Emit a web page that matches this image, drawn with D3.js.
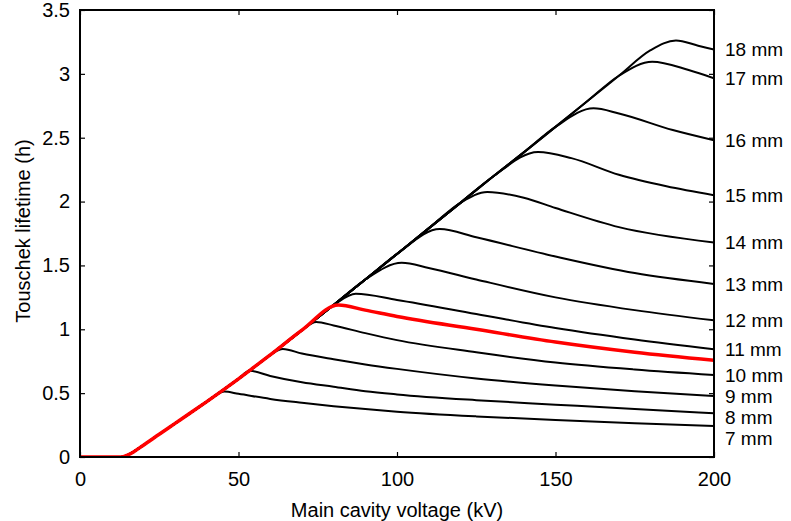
<!DOCTYPE html>
<html><head><meta charset="utf-8">
<script src="https://cdn.jsdelivr.net/npm/d3@7"></script>
<style>
html,body{margin:0;padding:0;background:#fff;}
svg text{font-family:"Liberation Sans",Arial,Helvetica,sans-serif;fill:#000;}
</style></head>
<body>
<svg id="chart" width="791" height="521"></svg>
<script>
// ---- data ----
const xTicks = [0, 50, 100, 150, 200];
const yTicks = [0, 0.5, 1, 1.5, 2, 2.5, 3, 3.5];
const xTickLabels = ["0", "50", "100", "150", "200"];
const yTickLabels = ["0", "0.5", "1", "1.5", "2", "2.5", "3", "3.5"];
const xTitle = "Main cavity voltage (kV)";
const yTitle = "Touschek lifetime (h)";

// common rising envelope [voltage kV, lifetime h]
const envelope = [[0,0],[13,0],[14,0.004],[15,0.015],[17,0.042],[20,0.092],[25,0.178],[30,0.263],[35,0.348],[40,0.434],[45,0.522],[50,0.612],[55,0.705],[60,0.799],[70,0.993],[80,1.19],[90,1.39],[100,1.59],[110,1.79],[120,1.99],[130,2.19],[140,2.385],[150,2.585],[160,2.785],[170,2.985],[180,3.185]];

// per-curve: label, voltage where it leaves the envelope, and falling tail points
const seriesNames = ["7 mm","8 mm","9 mm","10 mm","","11 mm","12 mm","13 mm","14 mm","15 mm","16 mm","17 mm","18 mm"];
const seriesColors = ["#000","#000","#000","#000","#ff0000","#000","#000","#000","#000","#000","#000","#000","#000"];
const seriesKnee = [43, 51, 61, 71.5, 78.5, 83.5, 98, 109, 123, 139, 156, 174, 180.5];
const tail7  = [[45.5,0.512],[50,0.495],[60,0.455],[70,0.425],[80,0.398],[90,0.375],[100,0.355],[125,0.318],[150,0.29],[175,0.265],[200,0.243]];
const tail8  = [[53.5,0.675],[60,0.635],[70,0.585],[80,0.55],[90,0.515],[100,0.49],[125,0.445],[150,0.41],[175,0.375],[200,0.342]];
const tail9  = [[64,0.845],[70,0.81],[80,0.765],[90,0.725],[100,0.69],[125,0.615],[150,0.56],[175,0.515],[200,0.478]];
const tail10 = [[74.5,1.057],[80,1.03],[90,0.97],[100,0.915],[125,0.82],[150,0.74],[175,0.685],[200,0.642]];
const tailRed= [[81.5,1.19],[90,1.15],[100,1.1],[125,1.0],[150,0.9],[175,0.82],[200,0.757]];
const tail11 = [[87,1.278],[100,1.23],[125,1.12],[150,1.01],[175,0.92],[200,0.843]];
const tail12 = [[101.5,1.52],[110,1.48],[125,1.39],[150,1.25],[175,1.15],[200,1.07]];
const tail13 = [[113.5,1.785],[125,1.72],[150,1.57],[175,1.44],[200,1.355]];
const tail14 = [[128.5,2.075],[140,2.03],[150,1.95],[170,1.8],[200,1.68]];
const tail15 = [[144.5,2.388],[155,2.34],[170,2.21],[185,2.12],[200,2.05]];
const tail16 = [[162,2.73],[170,2.69],[187,2.56],[200,2.48]];
const tail17 = [[180.5,3.095],[192,3.03],[200,2.966]];
const tail18 = [[188,3.262],[195,3.22],[200,3.19]];
const seriesTails = [tail7,tail8,tail9,tail10,tailRed,tail11,tail12,tail13,tail14,tail15,tail16,tail17,tail18];

// ---- drawing ----
const W = 791, H = 521;
const m = {left: 80, right: 77, top: 10, bottom: 64};
const FS = 20;
const svg = d3.select("#chart");
const x = d3.scaleLinear().domain([0, 200]).range([m.left, W - m.right]);
const y = d3.scaleLinear().domain([0, 3.5]).range([H - m.bottom, m.top]);

const series = seriesTails.map((t, i) => {
  const pts = envelope.filter(p => p[0] <= seriesKnee[i]).concat(t);
  return {name: seriesNames[i], color: seriesColors[i], pts};
});

const line = d3.line().x(d => x(d[0])).y(d => y(d[1])).curve(d3.curveMonotoneX);

const clipId = "plotclip";
svg.append("clipPath").attr("id", clipId).append("rect")
  .attr("x", m.left).attr("y", m.top).attr("width", W - m.left - m.right).attr("height", H - m.top - m.bottom);

const gLines = svg.append("g").attr("clip-path", `url(#${clipId})`);
series.filter(s => s.color !== "#ff0000").forEach(s => {
  gLines.append("path").attr("d", line(s.pts)).attr("fill", "none")
    .attr("stroke", s.color).attr("stroke-width", 2).attr("stroke-linejoin", "round");
});
series.filter(s => s.color === "#ff0000").forEach(s => {
  gLines.append("path").attr("d", line(s.pts)).attr("fill", "none")
    .attr("stroke", s.color).attr("stroke-width", 3.5).attr("stroke-linejoin", "round");
});

// axes (ticks inside, mirrored)
const tl = 5;
const axB = d3.axisBottom(x).tickValues(xTicks).tickFormat((d, i) => xTickLabels[i]).tickSizeInner(-tl).tickSizeOuter(0).tickPadding(12);
const axT = d3.axisTop(x).tickValues(xTicks).tickFormat("").tickSizeInner(-tl).tickSizeOuter(0);
const axL = d3.axisLeft(y).tickValues(yTicks).tickFormat((d, i) => yTickLabels[i]).tickSizeInner(-tl).tickSizeOuter(0).tickPadding(10);
const axR = d3.axisRight(y).tickValues(yTicks).tickFormat("").tickSizeInner(-tl).tickSizeOuter(0);

function style(g) {
  g.select(".domain").remove();
  g.selectAll("line").attr("stroke", "#000").attr("stroke-width", 1.2);
  g.selectAll("text").attr("font-size", FS).attr("fill", "#000").style("font-family", '"Liberation Sans",Arial,sans-serif');
}
const gB = svg.append("g").attr("transform", `translate(0,${H - m.bottom})`).call(axB).call(style);
gB.selectAll("text").attr("dy", null).attr("y", 29);
svg.append("g").attr("transform", `translate(0,${m.top})`).call(axT).call(style);
svg.append("g").attr("transform", `translate(${m.left},0)`).call(axL).call(style);
svg.append("g").attr("transform", `translate(${W - m.right},0)`).call(axR).call(style);

// frame
svg.append("rect").attr("x", m.left).attr("y", m.top)
  .attr("width", W - m.left - m.right).attr("height", H - m.top - m.bottom)
  .attr("fill", "none").attr("stroke", "#000").attr("stroke-width", 2);

// right-side labels with simple collision avoidance
const LFS = 19;
const labeled = series.filter(s => s.name !== "").map(s => ({name: s.name, yy: y(s.pts[s.pts.length - 1][1])}));
labeled.sort((a, b) => a.yy - b.yy);
for (let i = 1; i < labeled.length; i++) {
  if (labeled[i].yy - labeled[i - 1].yy < 21) labeled[i].yy = labeled[i - 1].yy + 21;
}
svg.append("g").selectAll("text").data(labeled).join("text")
  .attr("x", W - m.right + 11).attr("y", d => d.yy).attr("dy", "0.35em")
  .attr("font-size", LFS).text(d => d.name);

// titles
svg.append("text").attr("x", (m.left + W - m.right) / 2).attr("y", 517)
  .attr("text-anchor", "middle").attr("font-size", FS).text(xTitle);
svg.append("text").attr("transform", `translate(30,231) rotate(-90)`)
  .attr("text-anchor", "middle").attr("font-size", FS).text(yTitle);
</script>
</body></html>
